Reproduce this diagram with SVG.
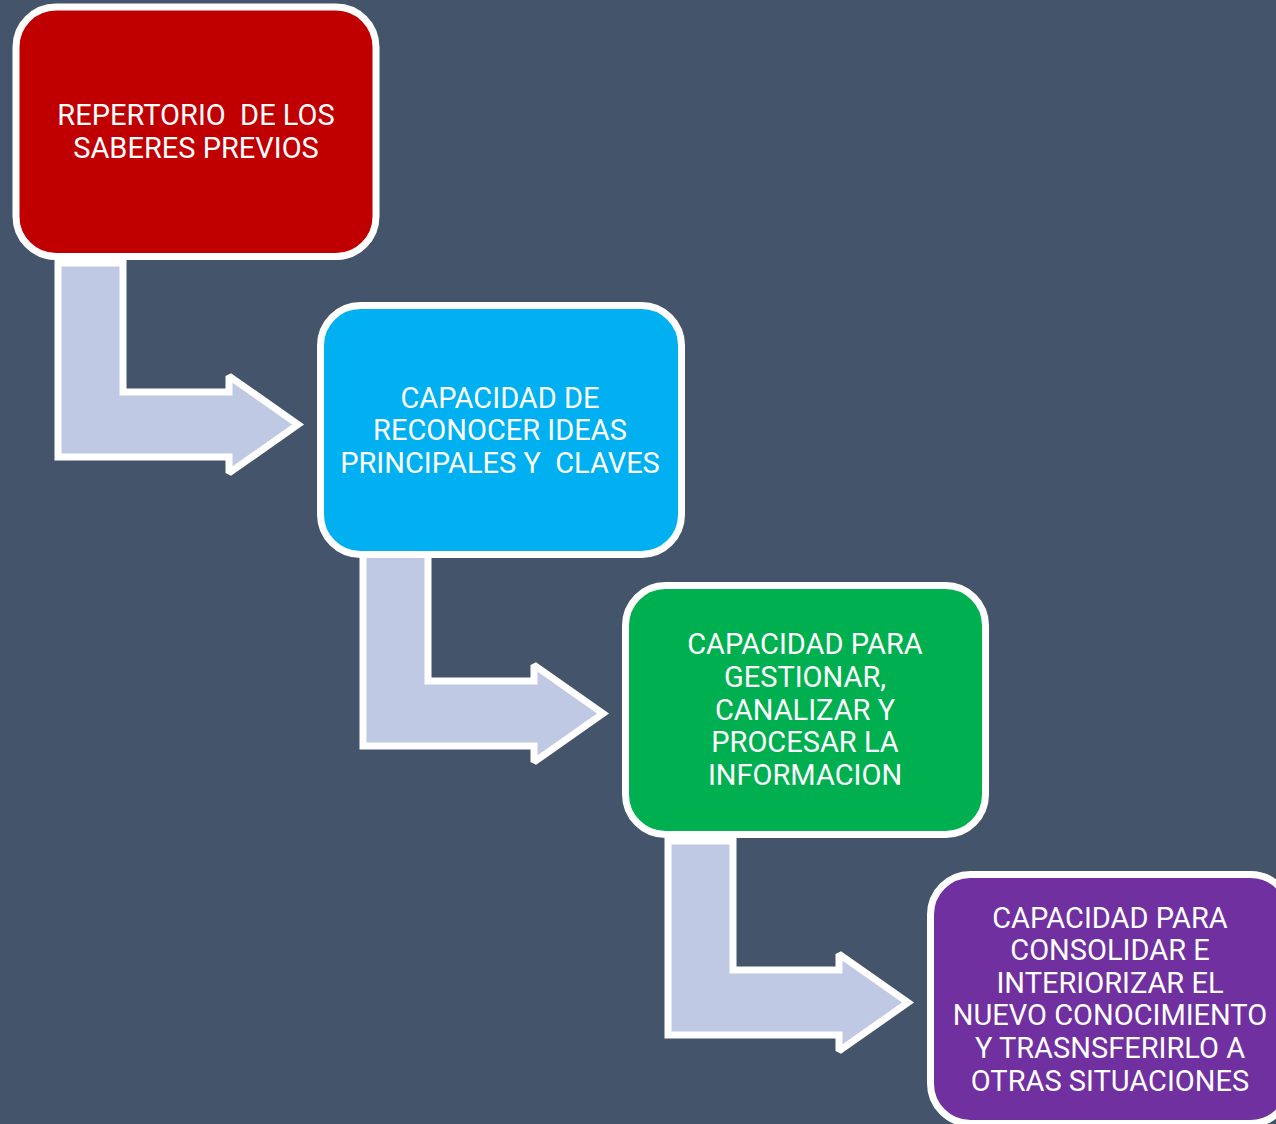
<svg xmlns="http://www.w3.org/2000/svg" width="1276" height="1124" viewBox="0 0 1276 1124">
<style>
.box{stroke:#FFFFFF;stroke-width:7}
.arrow{fill:#C0C9E4;stroke:#FFFFFF;stroke-width:7;stroke-linejoin:miter;stroke-miterlimit:2}
.lbl{font-family:Roboto,"Liberation Sans",sans-serif;font-size:29px;fill:#FFFFFF;text-anchor:middle;white-space:pre}
</style>
<defs>
<path id="bent" d="M58,263 L58,457 L229,457 L229,473 L298,424.5 L229,376 L229,392 L123,392 L123,263 Z"/>
</defs>
<rect width="1276" height="1124" fill="#44546A"/>
<g id="connectors">
<use href="#bent" class="arrow"/>
<use href="#bent" class="arrow" transform="translate(305,289)"/>
<use href="#bent" class="arrow" transform="translate(610,578)"/>
</g>
<g id="node1">
<rect class="box" x="16" y="7" width="360" height="249.5" rx="40" fill="#C00000"/>
<text class="lbl" x="196" y="125">REPERTORIO  DE LOS</text>
<text class="lbl" x="196" y="158">SABERES PREVIOS</text>
</g>
<g id="node2">
<rect class="box" x="320.5" y="305.5" width="361" height="249" rx="40" fill="#00B0F0"/>
<text class="lbl" x="500" y="408">CAPACIDAD DE</text>
<text class="lbl" x="500" y="440">RECONOCER IDEAS</text>
<text class="lbl" x="500" y="473">PRINCIPALES Y  CLAVES</text>
</g>
<g id="node3">
<rect class="box" x="625.5" y="585.5" width="360" height="249" rx="40" fill="#00B050"/>
<text class="lbl" x="805" y="654">CAPACIDAD PARA</text>
<text class="lbl" x="805" y="687">GESTIONAR,</text>
<text class="lbl" x="805" y="720">CANALIZAR Y</text>
<text class="lbl" x="805" y="752">PROCESAR LA</text>
<text class="lbl" x="805" y="785">INFORMACION</text>
</g>
<g id="node4">
<rect class="box" x="930.5" y="874.5" width="360" height="249" rx="40" fill="#7030A0"/>
<text class="lbl" x="1110" y="928">CAPACIDAD PARA</text>
<text class="lbl" x="1110" y="960">CONSOLIDAR E</text>
<text class="lbl" x="1110" y="993">INTERIORIZAR EL</text>
<text class="lbl" x="1110" y="1025">NUEVO CONOCIMIENTO</text>
<text class="lbl" x="1110" y="1058">Y TRASNSFERIRLO A</text>
<text class="lbl" x="1110" y="1091">OTRAS SITUACIONES</text>
</g>
</svg>
